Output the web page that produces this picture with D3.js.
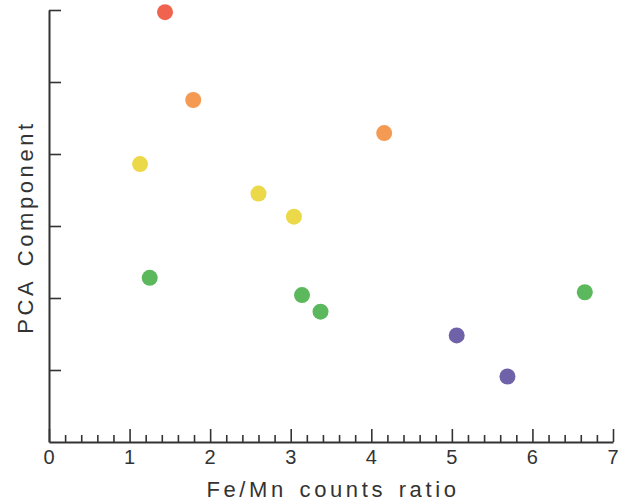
<!DOCTYPE html>
<html><head><meta charset="utf-8">
<script src="https://cdn.jsdelivr.net/npm/d3@7"></script>
<style>html,body{margin:0;padding:0;background:#fff;}svg{display:block;}</style>
</head><body>
<svg id="chart" width="629" height="504"></svg>
<script>
const xValues = [1.44, 1.79, 4.16, 1.13, 2.60, 3.04, 1.25, 3.14, 3.37, 6.65, 5.06, 5.69];
const yValues = [5.97, 4.75, 4.29, 3.86, 3.45, 3.13, 2.28, 2.04, 1.81, 2.08, 1.48, 0.91];
const groups  = ["red","orange","orange","yellow","yellow","yellow","green","green","green","green","purple","purple"];
const groupColors = {red:"#f0644f", orange:"#f49a52", yellow:"#ecd94a", green:"#5cb85c", purple:"#7062a8"};
const xTicks = [0,1,2,3,4,5,6,7];
const yTicks = [1,2,3,4,5,6];
const xLabel = "Fe/Mn counts ratio";
const yLabel = "PCA Component";

const svg = d3.select("#chart");
const mLeft = 49, mRight = 613, mTop = 10, mBottom = 442;
const x = d3.scaleLinear().domain([0,7]).range([mLeft,mRight]);
const y = d3.scaleLinear().domain([0,6]).range([mBottom,mTop]);
const axisColor = "#333";
const font = "Liberation Sans, Arial, sans-serif";

// X axis (ticks inward)
const xMinor = d3.range(0, 7.0001, 0.2).filter(v => Math.abs(v - Math.round(v)) > 1e-6);
const gx = svg.append("g").attr("transform", `translate(0,${mBottom})`);
gx.call(d3.axisBottom(x).tickValues(xTicks).tickSizeInner(-13).tickSizeOuter(0).tickPadding(0).tickFormat(""));
const gxm = gx.append("g").call(d3.axisBottom(x).tickValues(xMinor).tickSizeInner(-7).tickSizeOuter(0).tickFormat(""));
gxm.select("path.domain").remove();
gx.selectAll("path.domain").attr("stroke", axisColor).attr("stroke-width", 2);
gx.selectAll(".tick line").attr("stroke", axisColor).attr("stroke-width", 1.6);
// x tick labels
svg.append("g").selectAll("text").data(xTicks).join("text")
  .attr("x", d => x(d)).attr("y", 464)
  .attr("text-anchor","middle").attr("font-family",font).attr("font-size",20)
  .attr("fill", "#333").text(d => d);

// Y axis (ticks inward)
const gy = svg.append("g").attr("transform", `translate(${mLeft},0)`);
gy.call(d3.axisLeft(y).tickValues(yTicks).tickSizeInner(-12).tickSizeOuter(0).tickFormat(""));
gy.selectAll("path.domain").attr("stroke", axisColor).attr("stroke-width", 2);
gy.selectAll(".tick line").attr("stroke", axisColor).attr("stroke-width", 1.6);

// Axis titles
svg.append("text").attr("x", 333).attr("y", 497).attr("text-anchor","middle")
  .attr("font-family",font).attr("font-size",22).attr("letter-spacing",3.6).attr("word-spacing",3).attr("fill","#333").text(xLabel);
svg.append("text").attr("transform","translate(33,227) rotate(-90)").attr("text-anchor","middle")
  .attr("font-family",font).attr("font-size",22).attr("letter-spacing",3.6).attr("word-spacing",3).attr("fill","#333").text(yLabel);

// Points
svg.append("g").selectAll("circle").data(xValues.map((v,i)=>({x:v,y:yValues[i],g:groups[i]}))).join("circle")
  .attr("cx", d => x(d.x)).attr("cy", d => y(d.y)).attr("r", 8)
  .attr("fill", d => groupColors[d.g]);
</script>
</body></html>
